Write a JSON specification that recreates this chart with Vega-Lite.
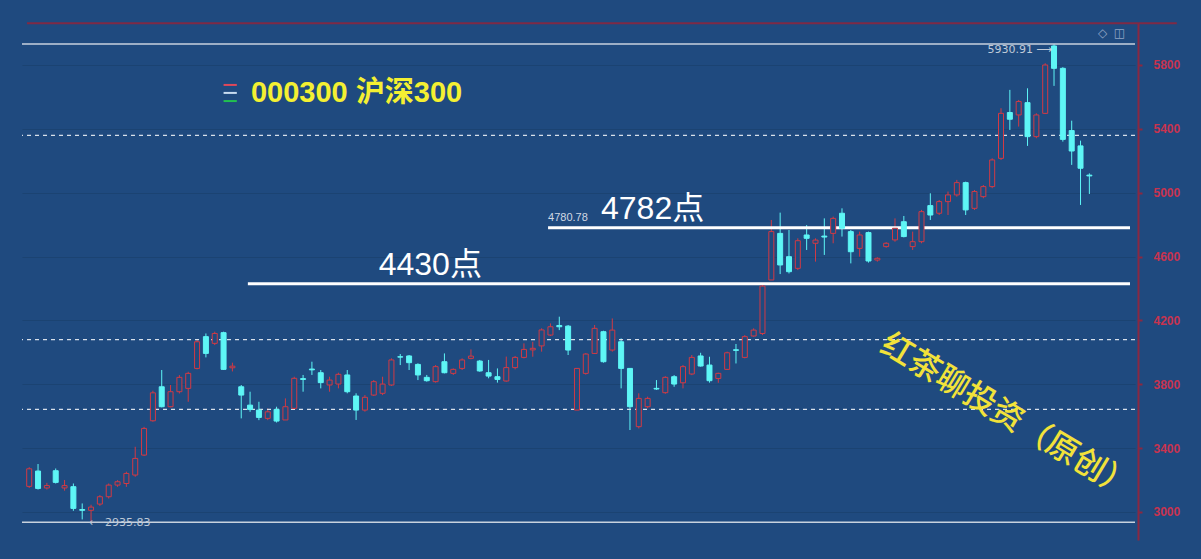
{
  "$schema": "https://vega.github.io/schema/vega-lite/v6.json",
  "width": 1113,
  "height": 517,
  "autosize": {"type": "none"},
  "padding": {"left": 22, "top": 23, "right": 66, "bottom": 19},
  "background": "#1f4a7f",
  "config": {"view": {"stroke": null}, "font": "Liberation Sans"},
  "datasets": {
    "k": [
      {"i":1,"o":3160,"h":3280,"l":3150,"c":3270},
      {"i":2,"o":3256,"h":3300,"l":3140,"c":3147},
      {"i":3,"o":3150,"h":3182,"l":3140,"c":3165},
      {"i":4,"o":3258,"h":3272,"l":3178,"c":3185},
      {"i":5,"o":3150,"h":3200,"l":3133,"c":3165},
      {"i":6,"o":3158,"h":3178,"l":3007,"c":3022},
      {"i":7,"o":3015,"h":3053,"l":2953,"c":3010},
      {"i":8,"o":3010,"h":3045,"l":2935.83,"c":3030},
      {"i":9,"o":3049,"h":3105,"l":3038,"c":3095},
      {"i":10,"o":3095,"h":3178,"l":3084,"c":3168},
      {"i":11,"o":3168,"h":3199,"l":3157,"c":3189},
      {"i":12,"o":3178,"h":3252,"l":3157,"c":3241},
      {"i":13,"o":3231,"h":3408,"l":3220,"c":3335},
      {"i":14,"o":3356,"h":3533,"l":3350,"c":3523},
      {"i":15,"o":3571,"h":3759,"l":3565,"c":3746},
      {"i":16,"o":3784,"h":3889,"l":3655,"c":3659},
      {"i":17,"o":3659,"h":3795,"l":3655,"c":3753},
      {"i":18,"o":3753,"h":3857,"l":3742,"c":3843},
      {"i":19,"o":3774,"h":3878,"l":3690,"c":3868},
      {"i":20,"o":3899,"h":4077,"l":3893,"c":4066},
      {"i":21,"o":4098,"h":4118,"l":3968,"c":3993},
      {"i":22,"o":4056,"h":4129,"l":4045,"c":4118},
      {"i":23,"o":4123,"h":4129,"l":3889,"c":3893},
      {"i":24,"o":3903,"h":3935,"l":3880,"c":3913},
      {"i":25,"o":3784,"h":3795,"l":3586,"c":3732},
      {"i":26,"o":3669,"h":3753,"l":3627,"c":3642},
      {"i":27,"o":3638,"h":3690,"l":3575,"c":3592},
      {"i":28,"o":3586,"h":3648,"l":3575,"c":3627},
      {"i":29,"o":3642,"h":3659,"l":3560,"c":3569},
      {"i":30,"o":3576,"h":3711,"l":3576,"c":3659},
      {"i":31,"o":3649,"h":3847,"l":3642,"c":3837},
      {"i":32,"o":3835,"h":3858,"l":3753,"c":3830},
      {"i":33,"o":3895,"h":3941,"l":3858,"c":3890},
      {"i":34,"o":3872,"h":3889,"l":3774,"c":3810},
      {"i":35,"o":3795,"h":3847,"l":3753,"c":3826},
      {"i":36,"o":3801,"h":3872,"l":3774,"c":3862},
      {"i":37,"o":3858,"h":3889,"l":3743,"c":3753},
      {"i":38,"o":3726,"h":3743,"l":3576,"c":3638},
      {"i":39,"o":3638,"h":3732,"l":3628,"c":3718},
      {"i":40,"o":3732,"h":3826,"l":3726,"c":3816},
      {"i":41,"o":3743,"h":3847,"l":3732,"c":3801},
      {"i":42,"o":3795,"h":3962,"l":3789,"c":3952},
      {"i":43,"o":3972,"h":3989,"l":3920,"c":3970},
      {"i":44,"o":3977,"h":3983,"l":3889,"c":3935},
      {"i":45,"o":3924,"h":3931,"l":3826,"c":3858},
      {"i":46,"o":3843,"h":3858,"l":3816,"c":3822},
      {"i":47,"o":3816,"h":3920,"l":3810,"c":3910},
      {"i":48,"o":3941,"h":3993,"l":3868,"c":3872},
      {"i":49,"o":3868,"h":3899,"l":3858,"c":3893},
      {"i":50,"o":3899,"h":3962,"l":3889,"c":3952},
      {"i":51,"o":3962,"h":4018,"l":3956,"c":3976},
      {"i":52,"o":3945,"h":3952,"l":3878,"c":3883},
      {"i":53,"o":3872,"h":3952,"l":3837,"c":3851},
      {"i":54,"o":3847,"h":3899,"l":3810,"c":3830},
      {"i":55,"o":3820,"h":3973,"l":3816,"c":3904},
      {"i":56,"o":3904,"h":3977,"l":3893,"c":3968},
      {"i":57,"o":3968,"h":4056,"l":3962,"c":4018},
      {"i":58,"o":4015,"h":4066,"l":3972,"c":4025},
      {"i":59,"o":4040,"h":4150,"l":4004,"c":4140},
      {"i":60,"o":4108,"h":4181,"l":4102,"c":4160},
      {"i":61,"o":4168,"h":4223,"l":4139,"c":4160},
      {"i":62,"o":4164,"h":4171,"l":3983,"c":4014},
      {"i":63,"o":3638,"h":3899,"l":3638,"c":3899},
      {"i":64,"o":3868,"h":3995,"l":3860,"c":3989},
      {"i":65,"o":3993,"h":4171,"l":3990,"c":4150},
      {"i":66,"o":4129,"h":4135,"l":3935,"c":3941},
      {"i":67,"o":4014,"h":4212,"l":4004,"c":4139},
      {"i":68,"o":4066,"h":4087,"l":3774,"c":3899},
      {"i":69,"o":3899,"h":3899,"l":3513,"c":3659},
      {"i":70,"o":3534,"h":3743,"l":3523,"c":3711},
      {"i":71,"o":3659,"h":3722,"l":3649,"c":3711},
      {"i":72,"o":3774,"h":3826,"l":3764,"c":3770},
      {"i":73,"o":3747,"h":3850,"l":3740,"c":3843},
      {"i":74,"o":3847,"h":3857,"l":3784,"c":3801},
      {"i":75,"o":3809,"h":3920,"l":3774,"c":3910},
      {"i":76,"o":3864,"h":3983,"l":3857,"c":3968},
      {"i":77,"o":3977,"h":3997,"l":3910,"c":3914},
      {"i":78,"o":3920,"h":3972,"l":3810,"c":3822},
      {"i":79,"o":3836,"h":3872,"l":3809,"c":3868},
      {"i":80,"o":3893,"h":4004,"l":3889,"c":3997},
      {"i":81,"o":4016,"h":4052,"l":3930,"c":4012},
      {"i":82,"o":3968,"h":4108,"l":3962,"c":4098},
      {"i":83,"o":4102,"h":4150,"l":4098,"c":4139},
      {"i":84,"o":4118,"h":4431,"l":4108,"c":4415},
      {"i":85,"o":4453,"h":4829,"l":4453,"c":4756},
      {"i":86,"o":4745,"h":4875,"l":4490,"c":4547},
      {"i":87,"o":4599,"h":4766,"l":4494,"c":4505},
      {"i":88,"o":4526,"h":4714,"l":4515,"c":4699},
      {"i":89,"o":4735,"h":4797,"l":4641,"c":4714},
      {"i":90,"o":4683,"h":4714,"l":4568,"c":4703},
      {"i":91,"o":4728,"h":4839,"l":4610,"c":4722},
      {"i":92,"o":4745,"h":4850,"l":4683,"c":4839},
      {"i":93,"o":4871,"h":4902,"l":4725,"c":4777},
      {"i":94,"o":4756,"h":4766,"l":4557,"c":4630},
      {"i":95,"o":4651,"h":4756,"l":4599,"c":4735},
      {"i":96,"o":4750,"h":4756,"l":4562,"c":4572},
      {"i":97,"o":4578,"h":4595,"l":4568,"c":4589},
      {"i":98,"o":4662,"h":4690,"l":4655,"c":4683},
      {"i":99,"o":4704,"h":4839,"l":4693,"c":4777},
      {"i":100,"o":4818,"h":4854,"l":4720,"c":4725},
      {"i":101,"o":4662,"h":4756,"l":4641,"c":4693},
      {"i":102,"o":4693,"h":4892,"l":4683,"c":4881},
      {"i":103,"o":4919,"h":4996,"l":4829,"c":4860},
      {"i":104,"o":4871,"h":4954,"l":4860,"c":4944},
      {"i":105,"o":4944,"h":5007,"l":4860,"c":4986},
      {"i":106,"o":4986,"h":5080,"l":4975,"c":5063},
      {"i":107,"o":5063,"h":5069,"l":4860,"c":4892},
      {"i":108,"o":4902,"h":5017,"l":4892,"c":5007},
      {"i":109,"o":4975,"h":5048,"l":4965,"c":5038},
      {"i":110,"o":5038,"h":5215,"l":5028,"c":5205},
      {"i":111,"o":5215,"h":5529,"l":5205,"c":5497},
      {"i":112,"o":5502,"h":5644,"l":5393,"c":5460},
      {"i":113,"o":5487,"h":5581,"l":5414,"c":5571},
      {"i":114,"o":5564,"h":5654,"l":5293,"c":5351},
      {"i":115,"o":5351,"h":5497,"l":5341,"c":5487},
      {"i":116,"o":5497,"h":5811,"l":5493,"c":5800},
      {"i":117,"o":5919,"h":5930.91,"l":5669,"c":5779},
      {"i":118,"o":5779,"h":5786,"l":5320,"c":5334},
      {"i":119,"o":5389,"h":5451,"l":5174,"c":5261},
      {"i":120,"o":5293,"h":5326,"l":4923,"c":5153},
      {"i":121,"o":5110,"h":5121,"l":4992,"c":5105}
    ],
    "fib": [{"y": 3642.7}, {"y": 4079.3}, {"y": 5358.9}],
    "ext": [{"y": 5930.91}, {"y": 2935.83}],
    "lv": [{"y": 4780.78, "x": 59.73}, {"y": 4430, "x": 25.75}],
    "one": [{}]
  },
  "layer": [
    {
      "data": {"name": "k"},
      "mark": {"type": "rule", "strokeWidth": 1},
      "encoding": {
        "x": {"field": "i", "type": "quantitative", "scale": {"domain": [0.75, 125.6], "nice": false, "zero": false}, "axis": null},
        "y": {
          "field": "l", "type": "quantitative",
          "scale": {"domain": [2824, 6063], "nice": false, "zero": false},
          "axis": {
            "orient": "right", "title": null, "offset": 3, "format": "d",
            "values": [3000, 3200, 3400, 3600, 3800, 4000, 4200, 4400, 4600, 4800, 5000, 5200, 5400, 5600, 5800],
            "domainColor": "#8a2842", "domainWidth": 2,
            "tickColor": "#8a2842", "tickSize": 4, "tickWidth": 2,
            "labelColor": "#c8334f", "labelFontSize": 12, "labelFontWeight": "bold", "labelPadding": 11,
            "grid": true, "gridColor": "#1b4372", "gridWidth": 1
          }
        },
        "y2": {"field": "h"},
        "color": {"condition": {"test": "datum.c > datum.o", "value": "#d23a44"}, "value": "#5ef6f6"}
      }
    },
    {
      "data": {"name": "fib"},
      "mark": {"type": "rule", "strokeDash": [4, 4], "strokeWidth": 1.3, "color": "#d8e0ea"},
      "encoding": {"y": {"field": "y", "type": "quantitative"}}
    },
    {
      "data": {"name": "ext"},
      "mark": {"type": "rule", "strokeWidth": 1.5, "color": "#c8d2de"},
      "encoding": {"y": {"field": "y", "type": "quantitative"}}
    },
    {
      "data": {"name": "lv"},
      "mark": {"type": "rule", "strokeWidth": 3, "color": "#ffffff"},
      "encoding": {
        "x": {"field": "x", "type": "quantitative"},
        "x2": {"datum": 125.6},
        "y": {"field": "y", "type": "quantitative"}
      }
    },
    {
      "data": {"name": "k"},
      "mark": {"type": "bar", "width": 5, "strokeWidth": 1},
      "encoding": {
        "x": {"field": "i", "type": "quantitative"},
        "y": {"field": "o", "type": "quantitative"},
        "y2": {"field": "c"},
        "fill": {"condition": {"test": "datum.c > datum.o", "value": "#1f4a7f"}, "value": "#5ef6f6"},
        "stroke": {"condition": {"test": "datum.c > datum.o", "value": "#d23a44"}, "value": "#5ef6f6"}
      }
    },
    {
      "data": {"name": "one"},
      "mark": {"type": "rule", "strokeWidth": 2, "color": "#7f2a45"},
      "encoding": {"y": {"datum": 6061}, "x": {"datum": 0.75}, "x2": {"datum": 130.9}}
    },
    {
      "data": {"name": "one"},
      "mark": {"type": "text", "text": "4782点", "fontSize": 32, "color": "#ffffff", "align": "center", "baseline": "middle", "font": "Liberation Sans, Noto Sans CJK SC"},
      "encoding": {"x": {"datum": 71.56}, "y": {"datum": 4898}}
    },
    {
      "data": {"name": "one"},
      "mark": {"type": "text", "text": "4430点", "fontSize": 32, "color": "#ffffff", "align": "center", "baseline": "middle", "font": "Liberation Sans, Noto Sans CJK SC"},
      "encoding": {"x": {"datum": 46.4}, "y": {"datum": 4547}}
    },
    {
      "data": {"name": "one"},
      "mark": {"type": "text", "text": "4780.78", "fontSize": 11, "color": "#d0d8e4", "align": "left", "baseline": "middle"},
      "encoding": {"x": {"datum": 59.73}, "y": {"datum": 4841}}
    },
    {
      "data": {"name": "one"},
      "mark": {"type": "text", "text": "5930.91 ⟶", "fontSize": 11, "color": "#c0cad8", "align": "right", "baseline": "middle", "font": "DejaVu Sans"},
      "encoding": {"x": {"datum": 116.8}, "y": {"datum": 5894}}
    },
    {
      "data": {"name": "one"},
      "mark": {"type": "text", "text": "⟵2935.83", "fontSize": 11, "color": "#c0cad8", "align": "left", "baseline": "middle", "font": "DejaVu Sans"},
      "encoding": {"x": {"datum": 7.8}, "y": {"datum": 2930}}
    },
    {
      "data": {"name": "one"},
      "mark": {"type": "text", "text": "000300 沪深300", "fontSize": 29, "fontWeight": "bold", "color": "#f4f032", "align": "left", "baseline": "middle", "font": "Liberation Sans, Noto Sans CJK SC"},
      "encoding": {"x": {"datum": 26.1}, "y": {"datum": 5625}}
    },
    {
      "data": {"name": "one"},
      "mark": {"type": "rule", "strokeWidth": 2, "color": "#e0485a"},
      "encoding": {"x": {"datum": 23.0}, "x2": {"datum": 24.5}, "y": {"datum": 5675}}
    },
    {
      "data": {"name": "one"},
      "mark": {"type": "rule", "strokeWidth": 2, "color": "#c8dcf0"},
      "encoding": {"x": {"datum": 23.0}, "x2": {"datum": 24.5}, "y": {"datum": 5625}}
    },
    {
      "data": {"name": "one"},
      "mark": {"type": "rule", "strokeWidth": 2, "color": "#22c050"},
      "encoding": {"x": {"datum": 23.0}, "x2": {"datum": 24.5}, "y": {"datum": 5574}}
    },
    {
      "data": {"name": "one"},
      "mark": {"type": "text", "text": "红茶聊投资（原创）", "fontSize": 32, "fontWeight": 500, "color": "#f2e23a", "angle": 31, "align": "center", "baseline": "middle", "font": "Noto Sans CJK SC"},
      "encoding": {"x": {"datum": 111.7}, "y": {"datum": 3600}}
    },
    {
      "data": {"name": "one"},
      "mark": {"type": "text", "text": "◇", "fontSize": 12, "color": "#8fa4c4", "align": "center", "baseline": "middle", "font": "DejaVu Sans"},
      "encoding": {"x": {"datum": 122.5}, "y": {"datum": 6000}}
    },
    {
      "data": {"name": "one"},
      "mark": {"type": "text", "text": "◫", "fontSize": 12, "color": "#8fa4c4", "align": "center", "baseline": "middle", "font": "DejaVu Sans"},
      "encoding": {"x": {"datum": 124.4}, "y": {"datum": 6000}}
    }
  ]
}
